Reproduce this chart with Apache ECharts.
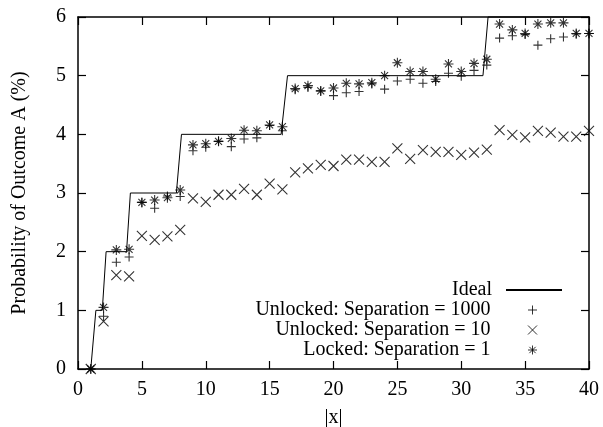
<!DOCTYPE html>
<html>
<head>
<meta charset="utf-8">
<script src="https://cdn.jsdelivr.net/npm/echarts@6/dist/echarts.min.js"></script>
<style>
  html, body { margin: 0; padding: 0; background: #fff; }
  #main { width: 603px; height: 427px; }
</style>
</head>
<body>
<div id="main"></div>
<script>
// values, one per |x| = 1..40
var xValues = [1, 2, 3, 4, 5, 6, 7, 8, 9, 10, 11, 12, 13, 14, 15, 16, 17, 18, 19, 20,
  21, 22, 23, 24, 25, 26, 27, 28, 29, 30, 31, 32, 33, 34, 35, 36, 37, 38, 39, 40];
var sep1000 = [0, 0.9, 1.82, 1.91, 2.84, 2.74, 2.95, 2.94, 3.72, 3.78, 3.88, 3.79, 3.92, 3.94, 4.15, 4.06, 4.76, 4.80, 4.74, 4.66,
  4.71, 4.73, 4.86, 4.77, 4.91, 4.94, 4.87, 4.90, 5.04, 4.99, 5.09, 5.18, 5.64, 5.68, 5.70, 5.52, 5.63, 5.66, 5.71, 5.72];
var sep10 = [0, 0.81, 1.60, 1.58, 2.27, 2.20, 2.26, 2.37, 2.91, 2.85, 2.97, 2.97, 3.07, 2.97, 3.16, 3.06, 3.35, 3.42, 3.48, 3.46,
  3.57, 3.57, 3.53, 3.53, 3.76, 3.58, 3.73, 3.70, 3.70, 3.65, 3.69, 3.74, 4.07, 3.99, 3.95, 4.06, 4.03, 3.96, 3.96, 4.06];
var locked1 = [0, 1.05, 2.03, 2.04, 2.84, 2.88, 2.92, 3.05, 3.82, 3.84, 3.88, 3.93, 4.07, 4.06, 4.16, 4.13, 4.78, 4.83, 4.74, 4.79,
  4.87, 4.86, 4.88, 5.00, 5.22, 5.07, 5.07, 4.94, 5.20, 5.07, 5.21, 5.28, 5.88, 5.78, 5.72, 5.88, 5.90, 5.90, 5.72, 5.72];
// ideal step curve (sampled, so the risers lean a little)
var idealX = [1, 1.4, 1.9, 2.2, 3.8, 4.1, 7.7, 8.1, 15.9, 16.4, 31.7, 32.1, 40];
var idealY = [0, 1, 1, 2, 2, 3, 3, 4, 4, 5, 5, 6, 6];
var xTicks = [0, 5, 10, 15, 20, 25, 30, 35, 40];
var yTicks = [0, 1, 2, 3, 4, 5, 6];

var names = ['Ideal', 'Unlocked: Separation = 1000', 'Unlocked: Separation = 10', 'Locked: Separation = 1'];
var font = 'Liberation Serif';
var PLUS = 'path://M0,5L10,5M5,0L5,10';
var CROSS = 'path://M0,0L10,10M10,0L0,10';
var STAR = 'path://M0,5L10,5M5,0L5,10M1.5,1.5L8.5,8.5M8.5,1.5L1.5,8.5';

function pairs(xs, ys) {
  return xs.map(function (x, i) { return [x, ys[i]]; });
}

function markSeries(name, values, symbol, size) {
  return {
    name: name,
    type: 'scatter',
    data: pairs(xValues, values),
    symbol: symbol,
    symbolSize: size,
    symbolKeepAspect: true,
    clip: false,
    itemStyle: { color: 'none', borderColor: '#000', borderWidth: 1.1 }
  };
}

// one legend per row so every row is right aligned like the gnuplot key
function keyEntry(name, top, right, isLine) {
  return {
    right: right,
    top: top,
    padding: 0,
    align: 'right',
    itemWidth: 56,
    itemHeight: isLine ? 14 : 9,
    data: [name],
    selectedMode: false,
    textStyle: { fontFamily: font, fontSize: 20, color: '#000', padding: [0, 9, 0, 0] },
    itemStyle: isLine ? { color: 'none', borderColor: 'none', borderWidth: 0 }
                      : { color: 'none', borderColor: '#000', borderWidth: 1 }
  };
}

function ticks() {
  return { show: true, inside: true, length: 8, lineStyle: { color: '#000', width: 1.2 } };
}
function line() {
  return { show: true, onZero: false, lineStyle: { color: '#000', width: 1.5 } };
}

var chart = echarts.init(document.getElementById('main'));
chart.setOption({
  animation: false,
  backgroundColor: '#fff',
  grid: { left: 78, right: 14, top: 17, bottom: 58, outerBoundsMode: 'none' },
  legend: [
    keyEntry(names[0], 280, 40, true),
    keyEntry(names[1], 300, 63.5, false),
    keyEntry(names[2], 320, 63.5, false),
    keyEntry(names[3], 340, 63.5, false)
  ],
  xAxis: [{
    type: 'value',
    min: xTicks[0],
    max: xTicks[xTicks.length - 1],
    interval: 5,
    name: '|x|',
    nameLocation: 'middle',
    nameGap: 39,
    nameTextStyle: { fontFamily: font, fontSize: 20, color: '#000' },
    axisLine: line(),
    axisTick: ticks(),
    splitLine: { show: false },
    axisLabel: { fontFamily: font, fontSize: 20, color: '#000', margin: 11 }
  }, {
    type: 'value',
    position: 'top',
    min: xTicks[0],
    max: xTicks[xTicks.length - 1],
    interval: 5,
    axisLine: line(),
    axisTick: ticks(),
    splitLine: { show: false },
    axisLabel: { show: false }
  }],
  yAxis: [{
    type: 'value',
    min: yTicks[0],
    max: yTicks[yTicks.length - 1],
    interval: 1,
    name: 'Probability of Outcome A (%)',
    nameLocation: 'middle',
    nameGap: 48,
    nameTextStyle: { fontFamily: font, fontSize: 20, color: '#000' },
    axisLine: line(),
    axisTick: ticks(),
    splitLine: { show: false },
    axisLabel: { fontFamily: font, fontSize: 20, color: '#000', margin: 12 }
  }, {
    type: 'value',
    position: 'right',
    min: yTicks[0],
    max: yTicks[yTicks.length - 1],
    interval: 1,
    axisLine: line(),
    axisTick: ticks(),
    splitLine: { show: false },
    axisLabel: { show: false }
  }],
  series: [{
    name: names[0],
    type: 'line',
    data: pairs(idealX, idealY),
    symbol: 'none',
    clip: false,
    lineStyle: { color: '#000', width: 1 },
    itemStyle: { color: '#000' }
  },
    markSeries(names[1], sep1000, PLUS, 9),
    markSeries(names[2], sep10, CROSS, 10),
    markSeries(names[3], locked1, STAR, 10)
  ]
});
</script>
</body>
</html>
